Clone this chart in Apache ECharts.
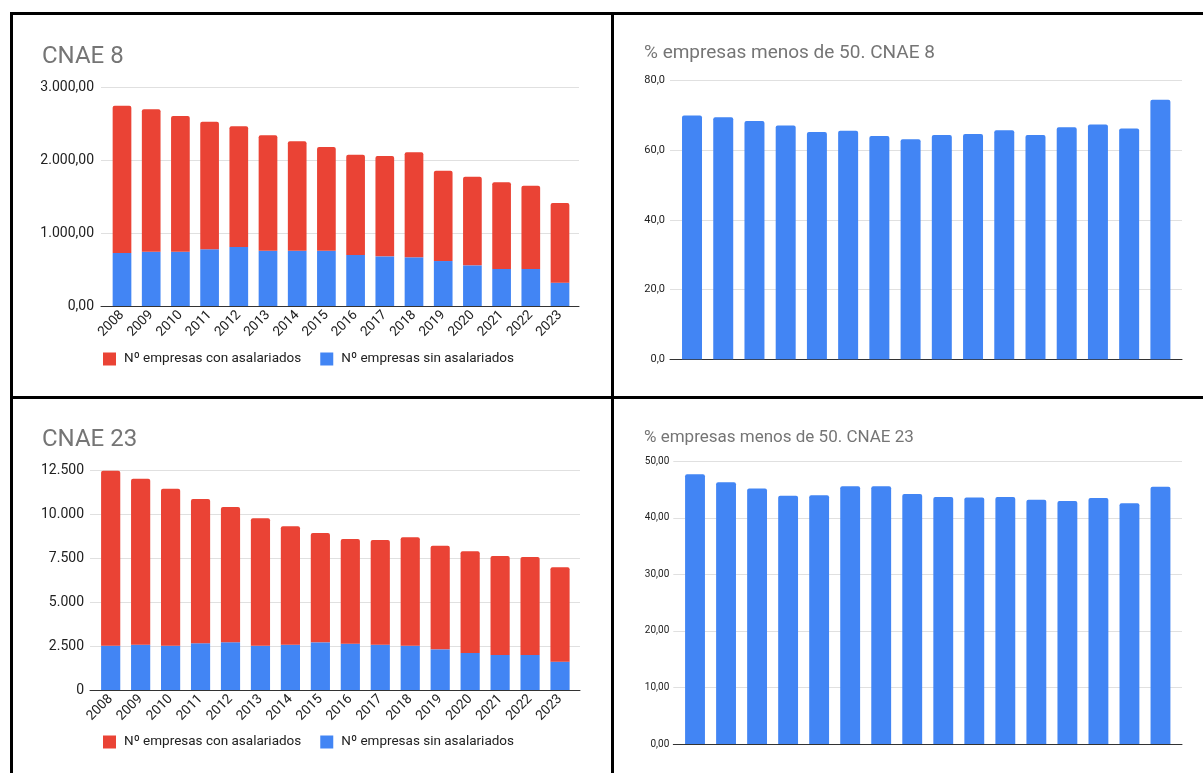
<!DOCTYPE html>
<html lang="es">
<head>
<meta charset="utf-8">
<title>Empresas CNAE 8 y CNAE 23</title>
<script src="https://cdn.jsdelivr.net/npm/echarts@6/dist/echarts.min.js"></script>
<style>
  html, body { margin: 0; padding: 0; background: #fff; }
  #chart { width: 1203px; height: 773px; }
</style>
</head>
<body>
<div id="chart"></div>
<script>
// Años
const years = ['2008','2009','2010','2011','2012','2013','2014','2015','2016','2017','2018','2019','2020','2021','2022','2023'];

// CNAE 8: número de empresas
const cnae8SinAsalariados = [726, 744, 744, 776, 808, 758, 758, 758, 699, 680, 667, 616, 557, 507, 507, 320];
const cnae8ConAsalariados = [2018, 1950, 1859, 1749, 1653, 1580, 1498, 1420, 1374, 1375, 1438, 1238, 1215, 1187, 1141, 1091];

// CNAE 23: número de empresas
const cnae23SinAsalariados = [2525, 2583, 2525, 2660, 2717, 2525, 2583, 2717, 2641, 2583, 2525, 2318, 2110, 1996, 1996, 1616];
const cnae23ConAsalariados = [9975, 9464, 8952, 8229, 7716, 7264, 6750, 6234, 5968, 5969, 6179, 5911, 5795, 5644, 5587, 5379];

// % empresas con menos de 50 trabajadores
const pctMenos50Cnae8 = [70.0, 69.5, 68.4, 67.1, 65.3, 65.6, 64.1, 63.2, 64.4, 64.7, 65.8, 64.4, 66.6, 67.4, 66.3, 74.5];
const pctMenos50Cnae23 = [47.7, 46.3, 45.2, 43.9, 44.0, 45.6, 45.6, 44.2, 43.7, 43.6, 43.7, 43.2, 43.0, 43.5, 42.6, 45.5];

const SERIE_CON = 'Nº empresas con asalariados';
const SERIE_SIN = 'Nº empresas sin asalariados';

const RED = '#ea4335';
const BLUE = '#4285f4';
const FONT = 'Roboto, Arial, sans-serif';

// Formato numérico español: miles con punto, decimales con coma
function fmtEs(v, decimals) {
  const parts = Number(v).toFixed(decimals).split('.');
  parts[0] = parts[0].replace(/\B(?=(\d{3})+(?!\d))/g, '.');
  return parts.length > 1 ? parts[0] + ',' + parts[1] : parts[0];
}

// Each panel uses two grids: an outer one carrying the gridlines, y labels
// and baseline, and an inner one (slightly inset) holding the bars.
const panels = [
  { // CNAE 8, barras apiladas
    frame: { left: 101, width: 478, top: 87, height: 219 },
    bars:  { left: 107.4, width: 467.2 },
    max: 3000, interval: 1000, dec: 2, labelSize: 14, labelMargin: 7, showYears: true
  },
  { // % CNAE 8
    frame: { left: 670, width: 512, top: 80.7, height: 278.6 },
    bars:  { left: 676.4, width: 499.6 },
    max: 80, interval: 20, dec: 1, labelSize: 11, labelMargin: 5, showYears: false
  },
  { // CNAE 23, barras apiladas
    frame: { left: 90, width: 490, top: 470.7, height: 219.3 },
    bars:  { left: 95.7, width: 479.3 },
    max: 12500, interval: 2500, dec: 0, labelSize: 14, labelMargin: 6, showYears: true
  },
  { // % CNAE 23
    frame: { left: 673.3, width: 508.7, top: 461.3, height: 282.7 },
    bars:  { left: 679.5, width: 496.5 },
    max: 50, interval: 10, dec: 2, labelSize: 10, labelMargin: 4, showYears: false
  }
];

const grid = [], xAxis = [], yAxis = [];
panels.forEach((p) => {
  const fi = grid.length;
  grid.push({ left: p.frame.left, top: p.frame.top, width: p.frame.width, height: p.frame.height, containLabel: false });
  xAxis.push({
    gridIndex: fi, type: 'value', min: 0, max: 1,
    axisLine: { show: true, lineStyle: { color: '#333', width: 1 } },
    axisTick: { show: false }, axisLabel: { show: false }, splitLine: { show: false }
  });
  yAxis.push({
    gridIndex: fi, type: 'value', min: 0, max: p.max, interval: p.interval,
    axisLine: { show: false }, axisTick: { show: false },
    splitLine: { show: true, lineStyle: { color: '#e0e0e0', width: 1 } },
    axisLabel: {
      color: '#222', fontFamily: FONT, fontSize: p.labelSize, margin: p.labelMargin,
      formatter: (v) => fmtEs(v, p.dec)
    }
  });
  const bi = grid.length;
  grid.push({ left: p.bars.left, top: p.frame.top, width: p.bars.width, height: p.frame.height, containLabel: false });
  xAxis.push({
    gridIndex: bi, type: 'category', data: years,
    axisLine: { show: false }, axisTick: { show: false },
    axisLabel: {
      show: p.showYears, rotate: 45, margin: 7, interval: 0,
      color: '#222', fontFamily: FONT, fontSize: 13.5
    }
  });
  yAxis.push({ gridIndex: bi, type: 'value', min: 0, max: p.max, show: false, splitLine: { show: false } });
  p.axisIndex = bi;
});

const barBase = { type: 'bar', barWidth: '64%', animation: false };

const series = [
  Object.assign({}, barBase, {
    name: SERIE_SIN, stack: 'c8', xAxisIndex: panels[0].axisIndex, yAxisIndex: panels[0].axisIndex,
    data: cnae8SinAsalariados, itemStyle: { color: BLUE }
  }),
  Object.assign({}, barBase, {
    name: SERIE_CON, stack: 'c8', xAxisIndex: panels[0].axisIndex, yAxisIndex: panels[0].axisIndex,
    data: cnae8ConAsalariados, itemStyle: { color: RED, borderRadius: [2, 2, 0, 0] }
  }),
  Object.assign({}, barBase, {
    name: '% empresas menos de 50. CNAE 8', xAxisIndex: panels[1].axisIndex, yAxisIndex: panels[1].axisIndex,
    data: pctMenos50Cnae8, itemStyle: { color: BLUE, borderRadius: [2, 2, 0, 0] }
  }),
  Object.assign({}, barBase, {
    name: SERIE_SIN, stack: 'c23', xAxisIndex: panels[2].axisIndex, yAxisIndex: panels[2].axisIndex,
    data: cnae23SinAsalariados, itemStyle: { color: BLUE }
  }),
  Object.assign({}, barBase, {
    name: SERIE_CON, stack: 'c23', xAxisIndex: panels[2].axisIndex, yAxisIndex: panels[2].axisIndex,
    data: cnae23ConAsalariados, itemStyle: { color: RED, borderRadius: [2, 2, 0, 0] }
  }),
  Object.assign({}, barBase, {
    name: '% empresas menos de 50. CNAE 23', xAxisIndex: panels[3].axisIndex, yAxisIndex: panels[3].axisIndex,
    data: pctMenos50Cnae23, itemStyle: { color: BLUE, borderRadius: [2, 2, 0, 0] }
  })
];

const titleStyle = { color: '#757575', fontFamily: FONT, fontWeight: 'normal' };
const legendBase = {
  data: [SERIE_CON, SERIE_SIN],
  icon: 'rect', itemWidth: 13, itemHeight: 13, itemGap: 19,
  selectedMode: false, padding: 0,
  textStyle: { color: '#222', fontFamily: FONT, fontSize: 13.5, padding: [0, 0, 0, 3] }
};

// Marco negro entre paneles
const borderStyle = { stroke: '#000', lineWidth: 3 };
const graphic = [
  { type: 'line', shape: { x1: 10, y1: 13.5, x2: 1203, y2: 13.5 }, style: borderStyle },
  { type: 'line', shape: { x1: 11.5, y1: 12, x2: 11.5, y2: 773 }, style: borderStyle },
  { type: 'line', shape: { x1: 612.5, y1: 12, x2: 612.5, y2: 773 }, style: borderStyle },
  { type: 'line', shape: { x1: 10, y1: 397.5, x2: 1203, y2: 397.5 }, style: borderStyle }
];

const chart = echarts.init(document.getElementById('chart'), null, { renderer: 'canvas' });
chart.setOption({
  backgroundColor: '#fff',
  animation: false,
  title: [
    { text: 'CNAE 8', left: 42, top: 45, padding: 0, textStyle: Object.assign({ fontSize: 24 }, titleStyle) },
    { text: '% empresas menos de 50. CNAE 8', left: 644, top: 44, padding: 0, textStyle: Object.assign({ fontSize: 19 }, titleStyle) },
    { text: 'CNAE 23', left: 42, top: 428, padding: 0, textStyle: Object.assign({ fontSize: 24 }, titleStyle) },
    { text: '% empresas menos de 50. CNAE 23', left: 644, top: 429, padding: 0, textStyle: Object.assign({ fontSize: 17 }, titleStyle) }
  ],
  legend: [
    Object.assign({}, legendBase, { left: 103, top: 352 }),
    Object.assign({}, legendBase, { left: 103, top: 735 })
  ],
  grid, xAxis, yAxis, series, graphic
});
</script>
</body>
</html>
